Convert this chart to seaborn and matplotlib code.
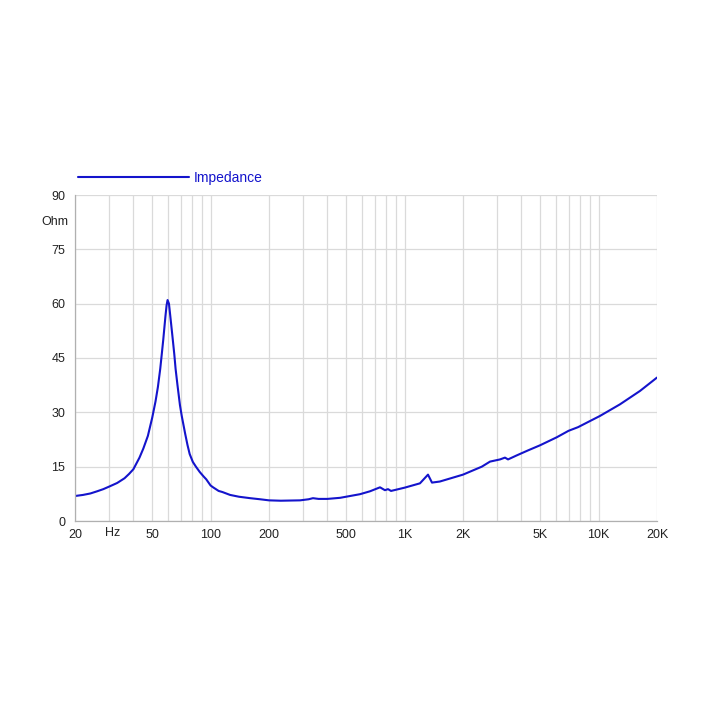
import numpy as np
import pandas as pd
import matplotlib
matplotlib.use("Agg")
import matplotlib.pyplot as plt
import matplotlib.transforms as mtransforms
import seaborn as sns

freq_hz = [20, 22, 24, 26, 28, 30, 33, 36, 38, 40, 43, 45, 47.5, 50, 52, 53.5, 55,
           56, 57, 58.5, 59.3, 60, 61, 62, 63, 64, 65, 66, 67.5, 69.5, 71, 74, 76,
           78, 81, 84, 88, 92, 95, 97, 100, 103, 110, 115, 126, 140, 160, 180, 200,
           230, 289, 320, 337, 360, 400, 465, 589, 663, 747, 792, 821, 851, 1000,
           1200, 1320, 1384, 1520, 2000, 2500, 2756, 3104, 3292, 3413, 3780, 4330,
           4990, 6080, 7000, 7830, 10160, 12880, 16340, 20000]
impedance_ohm = [6.9, 7.2, 7.6, 8.2, 8.8, 9.5, 10.5, 11.8, 13.0, 14.3, 17.5, 20,
                 23.5, 28.5, 33, 37, 42, 46, 50, 56.5, 59.5, 61.0, 60.0, 56.5, 53,
                 49.5, 46, 42, 37.5, 32, 29, 24, 21, 18.5, 16.3, 15, 13.5, 12.3,
                 11.5, 10.8, 9.8, 9.3, 8.3, 8.0, 7.2, 6.7, 6.3, 6.0, 5.7, 5.6, 5.7,
                 6.0, 6.3, 6.1, 6.1, 6.4, 7.4, 8.2, 9.3, 8.5, 8.8, 8.3, 9.2, 10.4,
                 12.8, 10.6, 10.9, 12.8, 15.0, 16.4, 17.0, 17.5, 17.0, 18.1, 19.5,
                 20.9, 23.1, 24.9, 25.9, 29.0, 32.2, 35.9, 39.6]
series_name = "Impedance"
x_tick_values = [20, 50, 100, 200, 500, 1000, 2000, 5000, 10000, 20000]
x_tick_labels = ["20", "50", "100", "200", "500", "1K", "2K", "5K", "10K", "20K"]
y_tick_values = [0, 15, 30, 45, 60, 75, 90]

df = pd.DataFrame({"Frequency": freq_hz, "Impedance": impedance_ohm,
                   "Series": series_name})

sns.set_style("white")
plt.rcParams["font.family"] = ["Liberation Sans", "DejaVu Sans"]

fig = plt.figure(figsize=(7.13, 7.13), dpi=100)
ax = fig.add_axes([75/713, 1-521/713, (657-75)/713, (521-195)/713])

blue = "#1414cc"
sns.lineplot(data=df, x="Frequency", y="Impedance", hue="Series",
             palette=[blue], ax=ax, linewidth=1.5, legend=False)

ax.set_xscale("log")
ax.set_xlim(20, 20000)
ax.set_ylim(0, 90)

# grid lines
grid_color = "#dadada"
minor = []
for dec in [10, 100, 1000, 10000]:
    for m in range(1, 10):
        v = dec * m
        if 20 <= v <= 20000:
            minor.append(v)
for v in minor:
    ax.axvline(v, color=grid_color, linewidth=0.9, zorder=0)
for v in y_tick_values:
    ax.axhline(v, color=grid_color, linewidth=0.9, zorder=0)

ax.set_xticks(x_tick_values)
ax.set_xticklabels(x_tick_labels)
ax.xaxis.set_minor_locator(matplotlib.ticker.NullLocator())
ax.set_yticks(y_tick_values)
ax.set_yticklabels([str(v) for v in y_tick_values])
ax.tick_params(axis="both", labelsize=9, colors="#b0b0b0", labelcolor="#222222",
               length=5, width=0.8, direction="out", pad=2)
ax.tick_params(axis="x", length=0, pad=6)

for s in ["top", "right"]:
    ax.spines[s].set_visible(False)
for s in ["left", "bottom"]:
    ax.spines[s].set_color("#b0b0b0")
    ax.spines[s].set_linewidth(0.9)

ax.set_xlabel("")
ax.set_ylabel("")

# unit labels
trans_y = mtransforms.blended_transform_factory(ax.transAxes, ax.transData)
ax.text(-0.012, 82.5, "Ohm", transform=trans_y, ha="right", va="center",
        fontsize=9, color="#222222")
trans_x = mtransforms.blended_transform_factory(ax.transData, ax.transAxes)
ax.text(31.4, -0.019, "Hz", transform=trans_x, ha="center", va="top",
        fontsize=9, color="#222222")

# legend
from matplotlib.lines import Line2D
h = Line2D([0], [0], color=blue, linewidth=1.5)
fig.legend([h], [series_name], loc="center left",
           bbox_to_anchor=(78/713, 1-178/713), frameon=False,
           handlelength=8.0, handletextpad=0.3, borderpad=0, borderaxespad=0,
           fontsize=10, labelcolor=blue)

fig.savefig("out.png", dpi=100, facecolor="white")
